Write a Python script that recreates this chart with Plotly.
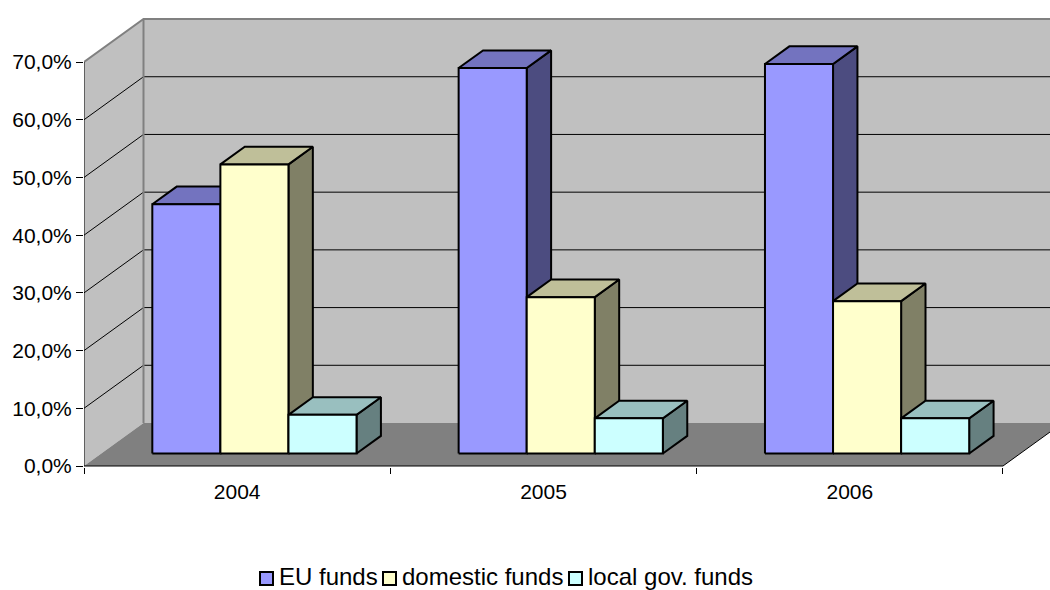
import plotly.graph_objects as go

# ---- data -------------------------------------------------------------
years = ["2004", "2005", "2006"]
series_names = ["EU funds", "domestic funds", "local gov. funds"]
eu_funds = [43.2, 66.8, 67.5]
domestic_funds = [50.1, 27.1, 26.4]
local_gov_funds = [6.7, 6.1, 6.1]
pct_ticks = [0, 10, 20, 30, 40, 50, 60, 70]
pct_tick_labels = [f"{v:.1f}".replace(".", ",") + "%" for v in pct_ticks]

series_values = [eu_funds, domestic_funds, local_gov_funds]
face_colors = ["#9999FF", "#FFFFCC", "#CCFFFF"]

# ---- layout / projection settings -------------------------------------
FONT = "Liberation Sans, Arial, sans-serif"
FIG_W, FIG_H = 1050, 590
LEFT_PX, RIGHT_PX = 84, 1050          # plot area horizontal extent
ZERO_PX, BOTTOM_PX = 466, 467         # pixel row of 0 % and plot bottom
PX_PER_CAT = 306.33
PX_PER_PCT = 5.771
DEPTH_PX = (59.5, 43.0)               # oblique offset of the full chart depth

x_lo = -0.5
x_hi = x_lo + (RIGHT_PX - LEFT_PX) / PX_PER_CAT
y_lo = -(BOTTOM_PX - ZERO_PX) / PX_PER_PCT
y_hi = ZERO_PX / PX_PER_PCT
y_top = max(pct_ticks)
x_end = len(years) - 0.5

DX = DEPTH_PX[0] / PX_PER_CAT
DY = DEPTH_PX[1] / PX_PER_PCT

GAP_WIDTH = 1.5
bar_w = 1.0 / (len(series_names) + GAP_WIDTH)
BAR_D0, BAR_D1 = 0.29, 0.70           # bar depth span (fraction of floor depth)


def proj(x, y, d):
    """Oblique projection of (category, value, depth) onto the 2-D axes."""
    return x + d * DX, y + d * DY


def shade(hex_color, k):
    r, g, b = (int(hex_color[i:i + 2], 16) for i in (1, 3, 5))
    return f"rgb({round(r * k)},{round(g * k)},{round(b * k)})"


fig = go.Figure()


def polygon(points, fill, line_color=None, line_width=0):
    xs, ys = zip(*[proj(*p) for p in points])
    fig.add_trace(go.Scatter(
        x=list(xs) + [xs[0]], y=list(ys) + [ys[0]],
        mode="lines", fill="toself", fillcolor=fill,
        line=dict(color=line_color or fill, width=line_width),
        hoverinfo="skip", showlegend=False))


def polyline(points, color, width):
    xs, ys = [], []
    for p in points:
        if p is None:
            xs.append(None)
            ys.append(None)
        else:
            px, py = proj(*p)
            xs.append(px)
            ys.append(py)
    fig.add_trace(go.Scatter(
        x=xs, y=ys, mode="lines", line=dict(color=color, width=width),
        hoverinfo="skip", showlegend=False))


# ---- walls and floor --------------------------------------------------
WALL = "#C0C0C0"
FLOOR = "#808080"
polygon([(x_lo, 0, 1), (x_end + 1, 0, 1), (x_end + 1, y_top, 1), (x_lo, y_top, 1)], WALL)
polygon([(x_lo, 0, 0), (x_lo, 0, 1), (x_lo, y_top, 1), (x_lo, y_top, 0)], WALL)
polygon([(x_lo, 0, 0), (x_end, 0, 0), (x_end, 0, 1), (x_lo, 0, 1)], FLOOR)

# gridlines: diagonal across the side wall, then along the back wall
grid_pts = []
for v in pct_ticks[1:-1]:
    grid_pts += [(x_lo, v, 0), (x_lo, v, 1), (x_end, v, 1), None]
polyline(grid_pts, "#000000", 1)

# wall edges
polyline([(x_lo, y_top, 0), (x_lo, y_top, 1), (x_end, y_top, 1), None,
          (x_lo, 0, 1), (x_lo, y_top, 1)], "#808080", 2)

# value axis line, floor front edge and floor right edge
polyline([(x_lo, y_top, 0), (x_lo, 0, 0), (x_end, 0, 0), (x_end, 0, 1)], "#000000", 1)

# ---- 3-D columns --------------------------------------------------------
for i in range(len(years)):
    for j, values in enumerate(series_values):
        v = values[i]
        x0 = i - 0.5 * len(series_names) * bar_w + j * bar_w
        x1 = x0 + bar_w
        base = face_colors[j]
        polygon([(x1, 0, BAR_D0), (x1, 0, BAR_D1), (x1, v, BAR_D1), (x1, v, BAR_D0)],
                shade(base, 0.5), "#000000", 2)
        polygon([(x0, v, BAR_D0), (x1, v, BAR_D0), (x1, v, BAR_D1), (x0, v, BAR_D1)],
                shade(base, 0.75), "#000000", 2)
        polygon([(x0, 0, BAR_D0), (x1, 0, BAR_D0), (x1, v, BAR_D0), (x0, v, BAR_D0)],
                base, "#000000", 2)

# ---- legend -------------------------------------------------------------
plot_w = RIGHT_PX - LEFT_PX
plot_h = BOTTOM_PX


def paper_x(px):
    return (px - LEFT_PX) / plot_w


def paper_y(py):
    return (BOTTOM_PX - py) / plot_h


legend_box_left = [260, 383, 569]
legend_text_left = [276.5, 399.5, 585.5]
BOX = 13
LEG_Y = 578.5
for name, color, bx, tx in zip(series_names, face_colors, legend_box_left, legend_text_left):
    fig.add_shape(type="rect", xref="paper", yref="paper",
                  x0=paper_x(bx), x1=paper_x(bx + BOX),
                  y0=paper_y(LEG_Y - BOX / 2), y1=paper_y(LEG_Y + BOX / 2),
                  fillcolor=color, line=dict(color="#000000", width=2))
    fig.add_annotation(xref="paper", yref="paper", x=paper_x(tx), y=paper_y(576),
                       xanchor="left", yanchor="middle", showarrow=False,
                       text=name, font=dict(family=FONT, size=24, color="#000000"))

# ---- axes ---------------------------------------------------------------
fig.update_xaxes(
    range=[x_lo, x_hi], tickvals=list(range(len(years))), ticktext=years,
    ticks="outside", ticklen=6, tickcolor="rgba(0,0,0,0)",
    showgrid=False, zeroline=False, showline=False,
    tickfont=dict(family=FONT, size=21, color="#000000"),
    minor=dict(tickvals=[x_lo + k for k in range(len(years) + 1)],
               ticks="outside", ticklen=6, tickwidth=1, tickcolor="#000000",
               showgrid=False),
)
fig.update_yaxes(
    range=[y_lo, y_hi], tickvals=pct_ticks, ticktext=pct_tick_labels,
    ticks="outside", ticklen=7, tickwidth=1, tickcolor="#000000",
    showgrid=False, zeroline=False, showline=False,
    tickfont=dict(family=FONT, size=21, color="#000000"),
)

fig.update_layout(
    width=FIG_W, height=FIG_H,
    margin=dict(l=LEFT_PX, r=FIG_W - RIGHT_PX, t=0, b=FIG_H - BOTTOM_PX, autoexpand=False),
    paper_bgcolor="#FFFFFF", plot_bgcolor="#FFFFFF",
    showlegend=False,
    font=dict(family=FONT, color="#000000"),
)

fig.write_html("out.html")
